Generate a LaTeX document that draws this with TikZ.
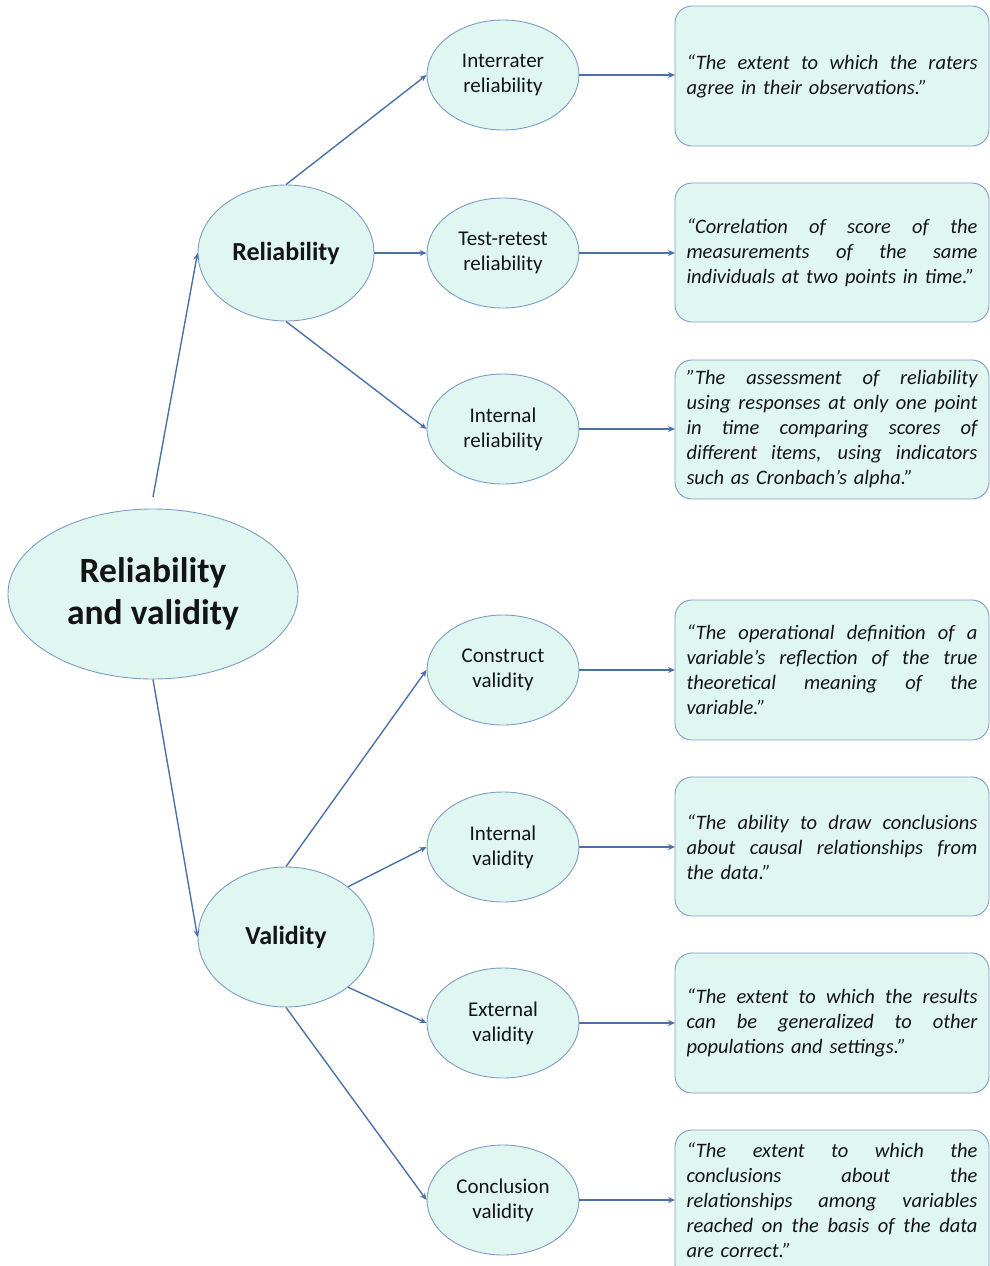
\documentclass[tikz,border=0pt]{standalone}
\usepackage{fontspec}
\setmainfont{Carlito}
\usetikzlibrary{arrows.meta,shapes.geometric}
\definecolor{linec}{HTML}{4A72A8}
\definecolor{fillc}{HTML}{E0F7F1}
\definecolor{edgec}{HTML}{7E9BC3}
\definecolor{txt}{HTML}{141414}
\newcommand\jl[1]{\makebox[291pt][s]{\spaceskip=0pt\xspaceskip=0pt\relax #1}\\}
\begin{document}
\begin{tikzpicture}[x=1pt,y=-1pt,
  ell/.style={ellipse,draw=edgec,fill=fillc,line width=0.9pt,inner sep=0pt,align=center,text=txt},
  small/.style={ell,minimum width=152pt,minimum height=110pt,font=\fontsize{21}{25}\selectfont},
  mid/.style={ell,minimum width=176pt,minimum height=136pt,font=\fontsize{26}{30}\selectfont\bfseries},
  defbox/.style={draw=edgec,fill=fillc,line width=0.9pt,rounded corners=17pt},
  deftext/.style={text width=291pt,align=left,inner sep=0pt,text=txt,font=\fontsize{20.5}{25}\selectfont\itshape},
  conn/.style={draw=linec,line width=1.4pt,-{Stealth[length=7pt,width=6pt]}}]
\useasboundingbox (0,0) rectangle (990,1266);
% root
\node[ell,minimum width=290pt,minimum height=170pt,font=\fontsize{35.5}{42}\selectfont\bfseries] (root) at (153,594) {Reliability\\and validity};
\node[mid] (rel) at (286,253) {Reliability};
\node[mid,minimum height=140pt] (val) at (286,937) {Validity};
% small ellipses
\node[small] (ir) at (503,75) {Interrater\\reliability};
\node[small] (tr) at (503,253) {Test-retest\\reliability};
\node[small] (inr) at (503,429) {Internal\\reliability};
\node[small] (cv) at (503,670) {Construct\\validity};
\node[small] (iv) at (503,847) {Internal\\validity};
\node[small] (ev) at (503,1023) {External\\validity};
\node[small] (clv) at (503,1200) {Conclusion\\validity};
% boxes
\draw[defbox] (675,6) rectangle (989,146);
\draw[defbox] (675,183) rectangle (989,322);
\draw[defbox] (675,360) rectangle (989,499);
\draw[defbox] (675,600) rectangle (989,740);
\draw[defbox] (675,777) rectangle (989,916);
\draw[defbox] (675,953) rectangle (989,1093);
\draw[defbox] (675,1130) rectangle (989,1282);
\coordinate (b1) at (675,75);
\coordinate (b2) at (675,253);
\coordinate (b3) at (675,429);
\coordinate (b4) at (675,670);
\coordinate (b5) at (675,847);
\coordinate (b6) at (675,1023);
\coordinate (b7) at (675,1200);
\node[deftext] (t1) at (832,76) {\jl{“The extent to which the raters}agree in their observations.”};
\node[deftext] (t2) at (832,253) {\jl{“Correlation of score of the}\jl{measurements of the same}individuals at two points in time.”};
\node[deftext] (t3) at (832,429) {\jl{”The assessment of reliability}\jl{using responses at only one point}\jl{in time comparing scores of}\jl{different items, using indicators}such as Cronbach’s alpha.”};
\node[deftext] (t4) at (832,670) {\jl{“The operational definition of a}\jl{variable’s reflection of the true}\jl{theoretical meaning of the}variable.”};
\node[deftext] (t5) at (832,847) {\jl{“The ability to draw conclusions}\jl{about causal relationships from}the data.”};
\node[deftext] (t6) at (832,1023) {\jl{“The extent to which the results}\jl{can be generalized to other}populations and settings.”};
\node[deftext] (t7) at (832,1200) {\jl{“The extent to which the}\jl{conclusions about the}\jl{relationships among variables}\jl{reached on the basis of the data}are correct.”};
% connectors
\coordinate (rtop) at (153,497);
\draw[conn] (rtop) -- (rel.west);
\draw[conn] (root.south) -- (val.west);
\draw[conn] (rel.north) -- (ir.west);
\draw[conn] (rel.east) -- (tr.west);
\draw[conn] (rel.south) -- (inr.west);
\draw[conn] (val.north) -- (cv.west);
\draw[conn] (val.39) -- (iv.west);
\draw[conn] (val.-39) -- (ev.west);
\draw[conn] (val.south) -- (clv.west);
\draw[conn] (ir.east) -- (b1);
\draw[conn] (tr.east) -- (b2);
\draw[conn] (inr.east) -- (b3);
\draw[conn] (cv.east) -- (b4);
\draw[conn] (iv.east) -- (b5);
\draw[conn] (ev.east) -- (b6);
\draw[conn] (clv.east) -- (b7);
\end{tikzpicture}
\end{document}
